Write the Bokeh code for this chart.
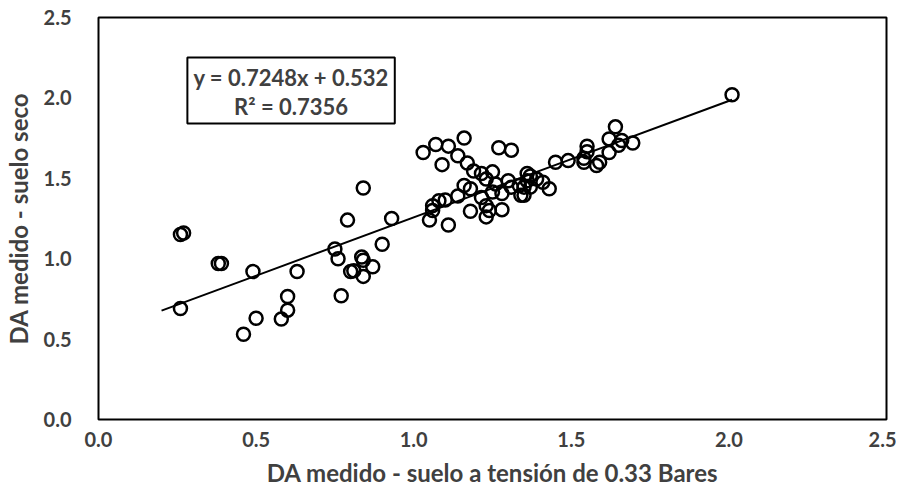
from bokeh.plotting import figure
from bokeh.models import Range1d, FixedTicker, PrintfTickFormatter, Label, BoxAnnotation
from bokeh.embed import file_html
from bokeh.resources import INLINE

# Measured data: DA at 0.33 bar tension (x) vs DA dry soil (y)
x_vals = [0.26, 0.27, 0.26, 0.38, 0.39, 0.49, 0.63, 0.60, 0.60, 0.58, 0.50, 0.46,
          0.75, 0.76, 0.77, 0.79, 0.80, 0.81, 0.84, 0.93, 0.90, 0.835, 0.84, 0.87,
          0.84, 1.03, 1.07, 1.11, 1.16, 1.09, 1.14, 1.17, 1.19, 1.215, 1.25, 1.27,
          1.31, 1.16, 1.18, 1.14, 1.10, 1.08, 1.06, 1.06, 1.05, 1.11, 1.18, 1.23,
          1.23, 1.24, 1.28, 1.215, 1.25, 1.28, 1.30, 1.31, 1.335, 1.34, 1.36, 1.26,
          1.23, 1.64, 1.62, 1.66, 1.695, 1.65, 1.55, 1.55, 1.62, 1.59, 1.58, 1.54,
          1.54, 1.49, 1.45, 1.43, 1.41, 1.39, 1.37, 1.36, 1.35, 1.35, 1.37, 2.01]
y_vals = [1.15, 1.16, 0.69, 0.97, 0.97, 0.92, 0.92, 0.765, 0.68, 0.625, 0.63, 0.53,
          1.06, 1.00, 0.77, 1.24, 0.92, 0.925, 1.44, 1.25, 1.09, 1.01, 0.99, 0.95,
          0.89, 1.66, 1.71, 1.70, 1.75, 1.585, 1.64, 1.595, 1.545, 1.53, 1.54, 1.69,
          1.675, 1.455, 1.435, 1.39, 1.365, 1.36, 1.33, 1.30, 1.24, 1.21, 1.295, 1.33,
          1.26, 1.30, 1.305, 1.38, 1.415, 1.405, 1.485, 1.445, 1.455, 1.395, 1.53, 1.465,
          1.495, 1.82, 1.745, 1.735, 1.72, 1.705, 1.70, 1.665, 1.66, 1.60, 1.58, 1.625,
          1.60, 1.61, 1.60, 1.435, 1.475, 1.495, 1.515, 1.485, 1.445, 1.395, 1.445, 2.02]

slope = 0.7248
intercept = 0.532
fit_x = [0.2, 2.01]
fit_y = [slope * v + intercept for v in fit_x]

tick_vals = [0.0, 0.5, 1.0, 1.5, 2.0, 2.5]
x_title = "DA medido - suelo a tensión de 0.33 Bares"
y_title = "DA medido - suelo seco"
eq_text = "y = 0.7248x + 0.532"
r2_text = "R² = 0.7356"

FONT = "Lato"
GREY = "#404040"

p = figure(width=896, height=503, output_backend="svg", toolbar_location=None,
           x_range=Range1d(0, 2.5), y_range=Range1d(0, 2.5),
           min_border_left=96, min_border_right=10, min_border_top=17, min_border_bottom=84)

p.xgrid.visible = False
p.ygrid.visible = False
p.outline_line_color = "black"
p.outline_line_width = 2
p.background_fill_color = "white"
p.border_fill_color = "white"

for ax in (p.xaxis[0], p.yaxis[0]):
    ax.ticker = FixedTicker(ticks=tick_vals)
    ax.formatter = PrintfTickFormatter(format="%.1f")
    ax.axis_line_color = None
    ax.major_tick_line_color = None
    ax.minor_tick_line_color = None
    ax.major_label_text_font = FONT
    ax.major_label_text_font_style = "bold"
    ax.major_label_text_font_size = "20px"
    ax.major_label_text_color = GREY
    ax.axis_label_text_font = FONT
    ax.axis_label_text_font_style = "bold"
    ax.axis_label_text_font_size = "24px"
    ax.axis_label_text_color = GREY

p.xaxis[0].axis_label = x_title
p.yaxis[0].axis_label = y_title
p.xaxis[0].major_label_standoff = 6
p.yaxis[0].major_label_standoff = 21
p.xaxis[0].axis_label_standoff = 8
p.yaxis[0].axis_label_standoff = 8

p.line(fit_x, fit_y, line_color="black", line_width=2)
p.scatter(x_vals, y_vals, marker="circle", size=13, fill_color=None,
          line_color="black", line_width=2.5)

box = BoxAnnotation(left=0.282, right=0.94, bottom=1.841, top=2.251,
                    fill_color="white", fill_alpha=1.0,
                    line_color="black", line_alpha=1.0, line_width=2, level="overlay")
p.add_layout(box)
p.add_layout(Label(x=0.611, y=2.127, text=eq_text, text_align="center", text_baseline="middle",
                   text_font=FONT, text_font_style="bold", text_font_size="22px",
                   text_color=GREY, level="overlay"))
p.add_layout(Label(x=0.611, y=1.947, text=r2_text, text_align="center", text_baseline="middle",
                   text_font=FONT, text_font_style="bold", text_font_size="22px",
                   text_color=GREY, level="overlay"))

open("out.html", "w").write(file_html(p, INLINE))
